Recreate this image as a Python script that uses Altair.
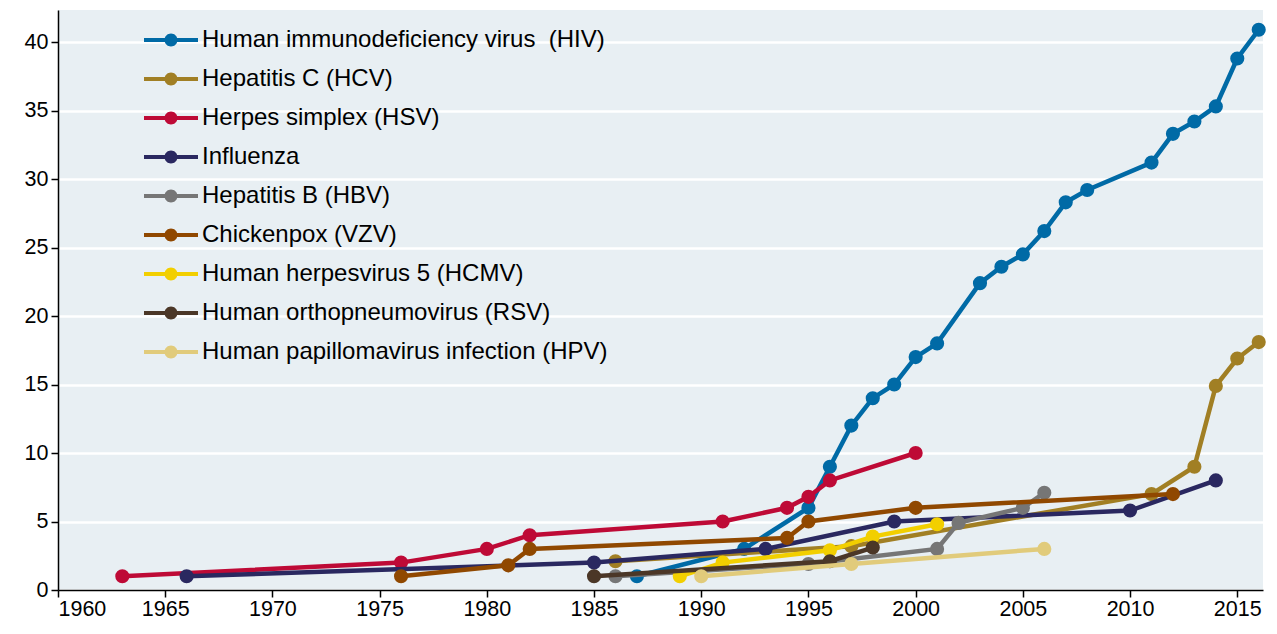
import altair as alt
import pandas as pd

series_names = [
    "Human immunodeficiency virus \u00a0(HIV)",
    "Hepatitis C (HCV)",
    "Herpes simplex (HSV)",
    "Influenza",
    "Hepatitis B (HBV)",
    "Chickenpox (VZV)",
    "Human herpesvirus 5 (HCMV)",
    "Human orthopneumovirus (RSV)",
    "Human papillomavirus infection (HPV)",
]
series_colors = ["#006AA6", "#A17F24", "#BE0A36", "#2A2860", "#767676",
                 "#904800", "#F2CF00", "#4B3727", "#E1CB7B"]

hiv_years = [1987, 1992, 1995, 1996, 1997, 1998, 1999, 2000, 2001, 2003, 2004,
             2005, 2006, 2007, 2008, 2011, 2012, 2013, 2014, 2015, 2016]
hiv_vals = [1, 3, 6, 9, 12, 14, 15, 17, 18, 22.4, 23.6, 24.5, 26.2, 28.3, 29.2,
            31.2, 33.3, 34.2, 35.3, 38.8, 40.9]
hcv_years = [1986, 1997, 2011, 2013, 2014, 2015, 2016]
hcv_vals = [2.1, 3.2, 7, 9, 14.9, 16.9, 18.1]
hsv_years = [1963, 1976, 1980, 1982, 1991, 1994, 1995, 1996, 2000]
hsv_vals = [1, 2, 3, 4, 5, 6, 6.8, 8, 10]
flu_years = [1966, 1985, 1993, 1999, 2010, 2014]
flu_vals = [1, 2, 3, 5, 5.8, 8]
hbv_years = [1986, 1995, 2001, 2002, 2005, 2006]
hbv_vals = [1, 1.9, 3, 4.9, 6, 7.1]
vzv_years = [1976, 1981, 1982, 1994, 1995, 2000, 2012]
vzv_vals = [1, 1.8, 3, 3.8, 5, 6, 7]
hcmv_years = [1989, 1991, 1996, 1998, 2001]
hcmv_vals = [1, 2, 2.9, 3.9, 4.8]
rsv_years = [1985, 1996, 1998]
rsv_vals = [1, 2.1, 3.1]
hpv_years = [1990, 1997, 2006]
hpv_vals = [1, 1.9, 3]

all_years = [hiv_years, hcv_years, hsv_years, flu_years, hbv_years,
             vzv_years, hcmv_years, rsv_years, hpv_years]
all_vals = [hiv_vals, hcv_vals, hsv_vals, flu_vals, hbv_vals,
            vzv_vals, hcmv_vals, rsv_vals, hpv_vals]

x_ticks = list(range(1960, 2016, 5))
y_ticks = list(range(0, 41, 5))

rows = []
for name, ys, vs in zip(series_names, all_years, all_vals):
    for yr, v in zip(ys, vs):
        rows.append({"Series": name, "Year": yr, "Value": v})
df = pd.DataFrame(rows)

font = "Liberation Sans"

x_enc = alt.X("Year:Q",
              scale=alt.Scale(domain=[1960, 2016.2], nice=False, zero=False),
              axis=alt.Axis(values=x_ticks, format="d", title=None, grid=False,
                            tickSize=7, labelPadding=1))
y_enc = alt.Y("Value:Q",
              scale=alt.Scale(domain=[0, 42.34], nice=False),
              axis=alt.Axis(values=y_ticks, title=None, grid=True,
                            tickSize=7, labelPadding=3))

legend_symbol = ("M-2.7,-0.2L2.7,-0.2L2.7,0.2L-2.7,0.2Z "
                 "M-0.65,0A0.65,0.65,0,1,1,0.65,0A0.65,0.65,0,1,1,-0.65,0Z")

color_enc = alt.Color(
    "Series:N",
    scale=alt.Scale(domain=series_names, range=series_colors),
    legend=alt.Legend(
        title=None, orient="none", legendX=84, legendY=18,
        symbolType=legend_symbol, symbolSize=400, symbolStrokeWidth=0,
        symbolOffset=17, labelOffset=19, labelFontSize=24, labelFont=font,
        labelColor="#000000", rowPadding=15, padding=0, labelLimit=600,
    ),
)

base = alt.Chart(df)
layers = []
for name, col in zip(series_names, series_colors):
    sub = base.transform_filter(alt.datum.Series == name)
    line = sub.mark_line(strokeWidth=4.5, color=col).encode(
        x=x_enc, y=y_enc, order="Year:Q")
    pts = sub.mark_circle(size=200, opacity=1).encode(
        x=x_enc, y=y_enc, color=color_enc)
    layers += [line, pts]

chart = alt.layer(*layers).properties(
    width=1205, height=580,
    padding={"left": 16, "top": 2, "right": 0, "bottom": 0},
).configure_view(
    fill="#E8EFF3", stroke=None
).configure_axis(
    labelFont=font, labelFontSize=21.5, labelColor="#000000",
    domainColor="#000000", domainWidth=1.5, tickColor="#000000", tickWidth=1.5,
    gridColor="#FFFFFF", gridWidth=2.5,
)

chart.save("out.html", embed_options={"renderer": "svg", "actions": False})
